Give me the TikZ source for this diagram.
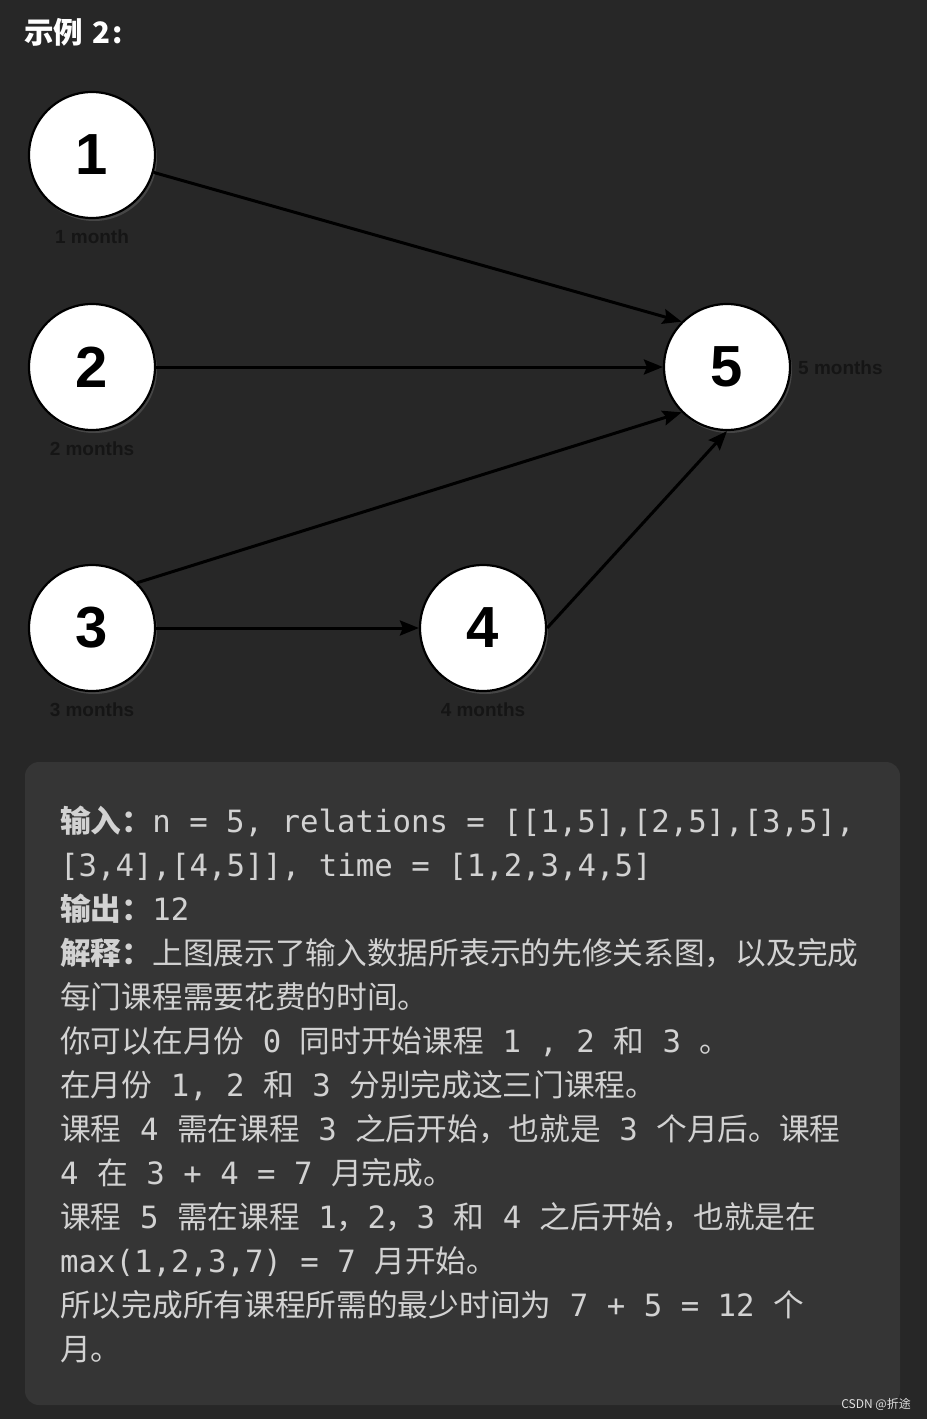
\documentclass[tikz,border=0pt]{standalone}
\usepackage{fontspec}
\setmainfont{Liberation Sans}
\setmonofont{DejaVu Sans Mono}
\newfontfamily\cjk{Noto Sans CJK SC}
\usetikzlibrary{arrows.meta,shadows}
\definecolor{bg}{HTML}{272727}
\definecolor{boxbg}{HTML}{353535}
\definecolor{txt}{HTML}{D2D2D2}
\definecolor{lbl}{HTML}{151515}
\newcommand\C[1]{{\cjk #1}}
\begin{document}
\begin{tikzpicture}[x=1pt,y=-1pt,
  course/.style={circle, draw=black, line width=2.2pt, fill=white, minimum size=126pt, inner sep=0pt,
    font=\fontsize{58}{58}\selectfont\bfseries,
    drop shadow={opacity=0.35, shadow xshift=2pt, shadow yshift=-3pt}},
  dur/.style={font=\fontsize{19}{19}\selectfont\bfseries, text=lbl, inner sep=0pt},
  edge/.style={-{Stealth[length=19pt,width=15pt,inset=3pt]}, line width=3pt, draw=black},
  txtline/.style={anchor=base west, inner sep=0pt, text=txt, font=\ttfamily\fontsize{30.7}{30.7}\selectfont}
]
\useasboundingbox (0,0) rectangle (927,1419);
\fill[bg] (0,0) rectangle (927,1419);

% title
\node[anchor=base west, inner sep=0pt, text=white, font=\cjk\bfseries\fontsize{29.5}{29.5}\selectfont] (title) at (24,43) {示例\hspace{9pt}2\hspace{2pt}:};

% courses
\node[course] (n1) at (92,155) {1};
\node[course] (n2) at (92,367) {2};
\node[course] (n3) at (92,628) {3};
\node[course] (n4) at (483,628) {4};
\node[course] (n5) at (727,367) {5};

\node[dur] (l1) at (92,237) {1 month};
\node[dur] (l2) at (92,449) {2 months};
\node[dur] (l3) at (92,710) {3 months};
\node[dur] (l4) at (483,710) {4 months};
\node[dur, anchor=west] (l5) at (798,368) {5 months};

\draw[edge] (n1) -- (n5.135);
\draw[edge] (n2) -- (n5);
\draw[edge] (n3.45) -- (n5.225);
\draw[edge] (n3) -- (n4);
\draw[edge] (n4.east) -- (n5.south);

% text box
\fill[boxbg, rounded corners=14pt] (25,762) rectangle (900,1405);

\node[txtline] (t1) at (60,832) {\C{\bfseries 输入：}n = 5, relations = [[1,5],[2,5],[3,5],};
\node[txtline] (t2) at (60,876) {[3,4],[4,5]], time = [1,2,3,4,5]};
\node[txtline] (t3) at (60,920) {\C{\bfseries 输出：}12};
\node[txtline] (t4) at (60,964) {\C{{\bfseries 解释：}上图展示了输入数据所表示的先修关系图，以及完成}};
\node[txtline] (t5) at (60,1008) {\C{每门课程需要花费的时间。}};
\node[txtline] (t6) at (60,1052) {\C{你可以在月份} 0 \C{同时开始课程} 1 , 2 \C{和} 3 \C{。}};
\node[txtline] (t7) at (60,1096) {\C{在月份} 1, 2 \C{和} 3 \C{分别完成这三门课程。}};
\node[txtline] (t8) at (60,1140) {\C{课程} 4 \C{需在课程} 3 \C{之后开始，也就是} 3 \C{个月后。课程}};
\node[txtline] (t9) at (60,1184) {4 \C{在} 3 + 4 = 7 \C{月完成。}};
\node[txtline] (t10) at (60,1228) {\C{课程} 5 \C{需在课程} 1\C{，}2\C{，}3 \C{和} 4 \C{之后开始，也就是在}};
\node[txtline] (t11) at (60,1272) {max(1,2,3,7) = 7 \C{月开始。}};
\node[txtline] (t12) at (60,1316) {\C{所以完成所有课程所需的最少时间为} 7 + 5 = 12 \C{个}};
\node[txtline] (t13) at (60,1360) {\C{月。}};

\node[anchor=base east, inner sep=0pt, text=white!88!black, font=\cjk\fontsize{12}{12}\selectfont] (wm) at (911,1408) {CSDN @折途};
\end{tikzpicture}
\end{document}
